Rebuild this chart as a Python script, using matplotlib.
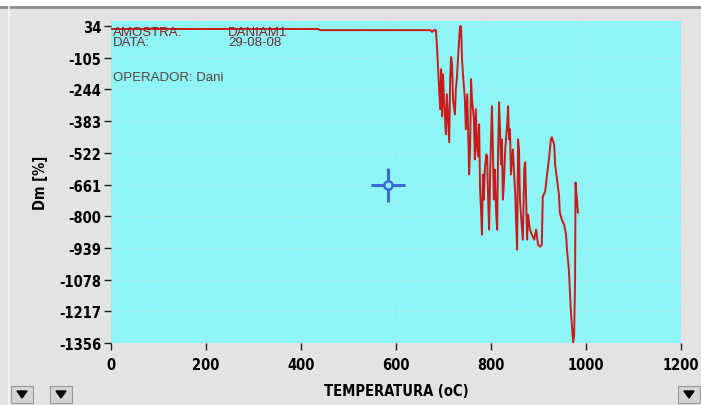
import matplotlib.pyplot as plt
from matplotlib.patches import Rectangle, Polygon
from matplotlib.lines import Line2D

plt.rcParams['axes.unicode_minus'] = False

# curva de perda de massa (TGA)
temperatura = [0, 436, 440, 672, 676, 680, 684, 686, 688, 693, 695, 697, 699, 701,
               705, 707, 712, 714, 716, 718, 720, 724, 726, 728, 733, 735, 737, 739,
               741, 745, 747, 750, 754, 756, 758, 760, 764, 766, 768, 771, 773, 775,
               777, 779, 781, 783, 785, 787, 790, 792, 794, 796, 798, 800, 802, 804,
               806, 808, 811, 813, 815, 817, 819, 821, 823, 825, 827, 830, 834, 836,
               838, 840, 842, 846, 851, 853, 855, 857, 859, 861, 863, 867, 870, 872,
               874, 876, 878, 882, 886, 891, 895, 899, 903, 907, 909, 914, 918, 922,
               926, 928, 933, 935, 939, 943, 945, 949, 954, 958, 960, 964, 966, 968,
               971, 973, 975, 977, 978, 979, 981, 983]
dm = [21, 21, 16, 16, 8, 16, 16, -45, -124, -331, -155, -362, -177, -287,
      -441, -265, -476, -199, -102, -133, -287, -353, -243, -199, -23, 34, 30, -111,
      -177, -287, -419, -265, -617, -507, -199, -287, -375, -551, -331, -507, -538, -397,
      -683, -771, -881, -617, -727, -595, -529, -538, -727, -859, -639, -463, -318, -507,
      -727, -595, -793, -859, -507, -300, -419, -573, -463, -727, -661, -507, -397, -318,
      -463, -419, -617, -507, -705, -837, -947, -463, -507, -727, -793, -903, -595, -564,
      -727, -903, -793, -859, -881, -903, -859, -925, -934, -925, -714, -692, -617, -551,
      -463, -454, -485, -573, -639, -705, -784, -815, -837, -881, -947, -1035, -1123, -1211,
      -1299, -1352, -1321, -1079, -652, -683, -727, -784]

xticks = [0, 200, 400, 600, 800, 1000, 1200]
yticks = [34, -105, -244, -383, -522, -661, -800, -939, -1078, -1217, -1356]
cursor_t, cursor_dm = 583, -661

tick_font = dict(family='DejaVu Sans', stretch='condensed', weight='bold', size=10.5)

fig = plt.figure(figsize=(7.01, 4.06), dpi=100, facecolor='#e3e3e3')
ax = fig.add_axes([111 / 701, 62 / 406, 570 / 701, 322 / 406])
ax.set_facecolor('#8ef6f6')

ax.plot(temperatura, dm, color='#cc1a1a', lw=1.4, zorder=3)

# cursor
ax.plot([cursor_t], [cursor_dm], marker='+', ms=24, mew=2.2, color='#3a6ad8', zorder=4)
ax.plot([cursor_t], [cursor_dm], marker='o', ms=6, mew=1.8, mfc='#8ef6f6',
        mec='#3a6ad8', zorder=5)

ax.set_xlim(0, 1200)
ax.set_ylim(-1356, 56)
ax.set_xticks(xticks)
ax.set_yticks(yticks)
ax.grid(True, color='#c4d8d8', lw=0.8, ls=':')
for s in ax.spines.values():
    s.set_visible(False)
ax.tick_params(axis='both', direction='out', length=5, width=1, color='#202020', pad=2)
ax.tick_params(axis='x', pad=5)
for lbl in ax.get_xticklabels() + ax.get_yticklabels():
    lbl.set(**tick_font)

ax.set_xlabel('TEMPERATURA (oC)', labelpad=8, **tick_font)
ax.set_ylabel('Dm [%]', labelpad=8, **tick_font)

# cabeçalho da amostra
info = dict(transform=ax.transAxes, family=['Liberation Sans', 'DejaVu Sans'],
            fontsize=9.5, va='center', ha='left', zorder=6)
ax.text(0.004, 0.966, 'AMOSTRA:', color='#8a2020', **info)
ax.text(0.205, 0.966, 'DANIAM1', color='#8a2020', **info)
ax.text(0.004, 0.936, 'DATA:', color='#6a3030', **info)
ax.text(0.205, 0.936, '29-08-08', color='#6a3030', **info)
ax.text(0.004, 0.826, 'OPERADOR: Dani', color='#5a4040', **info)

# moldura do painel
W, H = 701, 406
fig.patches.append(Rectangle((0, 1 - 7 / H), 1, 7 / H, transform=fig.transFigure,
                             facecolor='white', edgecolor='none', zorder=0))
fig.lines.append(Line2D([0, 1], [1 - 8 / H, 1 - 8 / H], transform=fig.transFigure,
                        color='#8c8c8c', lw=2))
fig.lines.append(Line2D([9 / W, 9 / W], [0, 1 - 8 / H], transform=fig.transFigure,
                        color='#f4f4f4', lw=1.2))

# botões
for x0 in (11, 50, 678):
    fig.patches.append(Rectangle((x0 / W, 2 / H), 22 / W, 17 / H,
                                 transform=fig.transFigure, facecolor='#d4d4d4',
                                 edgecolor='#9a9a9a', lw=0.8))
    cx = x0 + 11
    fig.patches.append(Polygon([((cx - 5) / W, 14 / H), ((cx + 5) / W, 14 / H),
                                (cx / W, 7 / H)], closed=True,
                               transform=fig.transFigure, facecolor='black',
                               edgecolor='black'))

fig.savefig('out.png', dpi=100, facecolor=fig.get_facecolor())
